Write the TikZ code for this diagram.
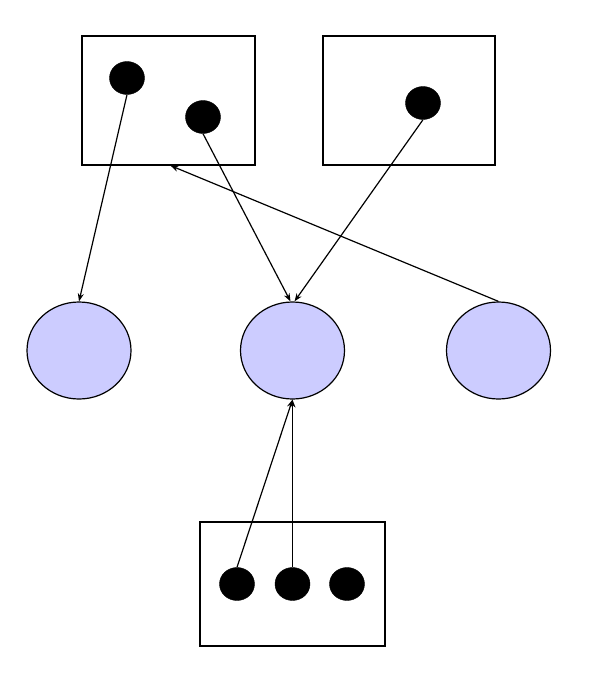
\documentclass[tikz,border=0pt]{standalone}
\usetikzlibrary{arrows.meta,shapes.geometric}
\definecolor{lavender}{RGB}{204,204,255}
\begin{document}
\begin{tikzpicture}[x=1pt,y=-1pt,
  box/.style={draw,line width=1.2pt,rectangle,inner sep=0pt},
  dot/.style={ellipse,fill=black,draw=black,inner sep=0pt,minimum width=35pt,minimum height=33pt},
  blob/.style={ellipse,draw,line width=1.2pt,fill=lavender,inner sep=0pt,minimum width=104pt,minimum height=97pt},
  link/.style={line width=1.2pt,-{Stealth[length=8pt,width=6pt]}}]
\useasboundingbox (0,0) rectangle (590,694);

% upper containers
\node[box,minimum width=173pt,minimum height=129pt] (B1) at (168.5,100.5) {};
\node[box,minimum width=172pt,minimum height=129pt] (B2) at (409,100.5) {};
% lower container
\node[box,minimum width=185pt,minimum height=124pt] (B3) at (292.5,584) {};

% dots inside the containers
\node[dot] (d1) at (127,78) {};
\node[dot] (d2) at (203,117) {};
\node[dot] (d3) at (423,103) {};
\node[dot] (e1) at (237,584) {};
\node[dot] (e2) at (292.5,584) {};
\node[dot] (e3) at (347,584) {};

% middle row of circles
\node[blob] (L) at (79,350.5) {};
\node[blob] (M) at (292.5,350.5) {};
\node[blob] (R) at (498.5,350.5) {};

% connectors
\draw[link] (d1.south) -- (L.north);
\draw[link] (d2.south) -- ([xshift=-2pt]M.north);
\draw[link] (d3.south) -- ([xshift=2pt]M.north);
\draw[link] (R.north) -- ([xshift=2pt]B1.south);
\draw[link] (e1.north) -- (M.south);
\draw[link] (e2.north) -- (M.south);
\end{tikzpicture}
\end{document}
